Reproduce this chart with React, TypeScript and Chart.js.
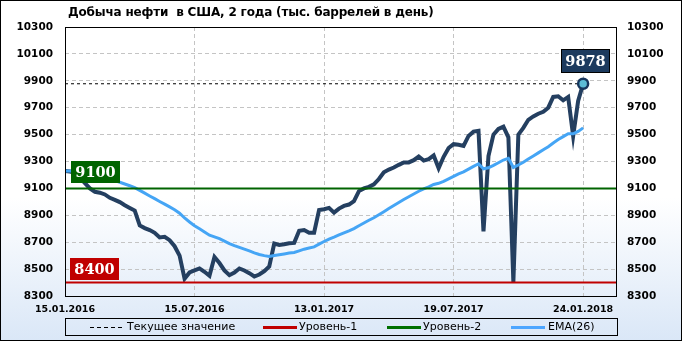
import React, { useEffect, useRef } from "react";
import { Chart, registerables } from "chart.js";
Chart.register(...registerables);

const title = "Добыча нефти  в США, 2 года (тыс. баррелей в день)";

// weekly production, thousand barrels per day (index = week)
const production = [
  9230, 9225, 9215, 9180, 9140, 9100, 9075, 9068, 9055, 9030,
  9015, 8998, 8975, 8955, 8935, 8825, 8805, 8790, 8770, 8735,
  8740, 8715, 8670, 8600, 8428, 8475, 8490, 8505, 8480, 8450,
  8590, 8545, 8490, 8455, 8475, 8505, 8490, 8470, 8445, 8460,
  8485, 8520, 8690, 8680, 8685, 8692, 8695, 8785, 8790, 8770,
  8770, 8940, 8945, 8955, 8920, 8950, 8970, 8980, 9005, 9080,
  9100, 9112, 9130, 9170, 9220, 9240, 9255, 9275, 9293, 9293,
  9310, 9337, 9307, 9318, 9345, 9250, 9335, 9400, 9429, 9425,
  9416, 9490, 9522, 9528, 8780, 9340, 9500, 9542, 9559, 9480,
  8405, 9500, 9550, 9610, 9635, 9655, 9670, 9700, 9780, 9785,
  9755, 9780, 9490, 9750, 9878,
];

const ema26 = [
  9230, 9230, 9228, 9225, 9219, 9210, 9200, 9190, 9180, 9169,
  9158, 9146, 9133, 9120, 9106, 9085, 9065, 9044, 9024, 9003,
  8983, 8963, 8942, 8916, 8880, 8850, 8823, 8800, 8776, 8752,
  8740, 8726, 8708, 8689, 8674, 8661, 8648, 8635, 8621, 8609,
  8600, 8594, 8601, 8607, 8613, 8619, 8624, 8636, 8648, 8657,
  8665, 8686, 8705, 8723, 8738, 8754, 8770, 8785, 8801, 8822,
  8843, 8863, 8882, 8904, 8927, 8950, 8973, 8995, 9017, 9038,
  9058, 9079, 9096, 9112, 9129, 9138, 9153, 9171, 9190, 9208,
  9223, 9243, 9264, 9283, 9246, 9253, 9271, 9291, 9311, 9324,
  9256, 9274, 9294, 9318, 9341, 9364, 9387, 9410, 9438, 9463,
  9485, 9507, 9506, 9524, 9550,
];

const tickIndex = [0, 26, 52, 78, 104];
const tickLabels = ["15.01.2016", "15.07.2016", "13.01.2017", "19.07.2017", "24.01.2018"];
const xMax = 110.6;

const yMin = 8300;
const yMax = 10300;
const yStep = 200;

const level1 = 8400;
const level2 = 9100;
const currentValue = 9878;

const legendLabels = ["Текущее значение", "Уровень-1", "Уровень-2", "EMA(26)"];

const COLORS = {
  main: "#243f60",
  ema: "#45a5f5",
  red: "#c00000",
  green: "#006400",
  grid: "#c4c4c4",
};

const FONT = '"DejaVu Sans", sans-serif';

const framePlugin = {
  id: "frame",
  afterDatasetsDraw(chart: any) {
    const { ctx, chartArea: a, scales } = chart;
    ctx.save();
    ctx.strokeStyle = "#000";
    ctx.lineWidth = 1;
    ctx.strokeRect(Math.round(a.left) + 0.5, Math.round(a.top) + 0.5, Math.round(a.right - a.left), Math.round(a.bottom - a.top));

    const drawBox = (text: string, left: number, bottom: number, w: number, h: number, bg: string, border?: string) => {
      ctx.fillStyle = bg;
      ctx.fillRect(left, bottom - h, w, h);
      if (border) {
        ctx.strokeStyle = border;
        ctx.lineWidth = 1;
        ctx.strokeRect(left + 0.5, bottom - h + 0.5, w - 1, h - 1);
      }
      ctx.fillStyle = "#fff";
      ctx.font = 'bold 14.5px "DejaVu Serif", serif';
      ctx.textAlign = "center";
      ctx.textBaseline = "middle";
      ctx.fillText(text, left + w / 2, bottom - h / 2 + 1);
    };
    const y = scales.y;
    const x = scales.x;
    drawBox(String(level2), Math.round(a.left) + 6, Math.round(y.getPixelForValue(level2)) - 5, 49, 22, "#006400");
    drawBox(String(level1), Math.round(a.left) + 5, Math.round(y.getPixelForValue(level1)) - 3, 49, 22, "#c00000");
    const lx = x.getPixelForValue(production.length - 1);
    drawBox(String(currentValue), Math.round(lx - 22), Math.round(y.getPixelForValue(currentValue)) - 11, 49, 24, "#1c3a5e", "#000");
    ctx.restore();
  },
};

export default function App() {
  const ref = useRef<HTMLCanvasElement>(null);
  useEffect(() => {
    document.body.style.margin = "0";
    const last = production.length - 1;
    const pts = (arr: number[]) => arr.map((v, i) => ({ x: i, y: v }));
    const chart = new Chart(ref.current!, {
      type: "line",
      data: {
        datasets: [
          {
            label: legendLabels[0],
            data: [{ x: 0, y: currentValue }, { x: last, y: currentValue }],
            borderColor: "#000",
            borderWidth: 1,
            borderDash: [3, 3],
            pointRadius: 0,
            order: 5,
          },
          {
            label: "production",
            data: pts(production),
            borderColor: COLORS.main,
            borderWidth: 4,
            pointRadius: (c: any) => (c.dataIndex === last ? 5 : 0),
            pointBackgroundColor: "#5cbcd6",
            pointBorderColor: "#17365d",
            pointBorderWidth: 2.5,
            order: 3,
          },
          {
            label: legendLabels[3],
            data: pts(ema26),
            borderColor: COLORS.ema,
            borderWidth: 3,
            pointRadius: 0,
            order: 2,
          },
          {
            label: legendLabels[1],
            data: [{ x: 0, y: level1 }, { x: xMax, y: level1 }],
            borderColor: COLORS.red,
            borderWidth: 2,
            pointRadius: 0,
            order: 1,
          },
          {
            label: legendLabels[2],
            data: [{ x: 0, y: level2 }, { x: xMax, y: level2 }],
            borderColor: COLORS.green,
            borderWidth: 2,
            pointRadius: 0,
            order: 1,
          },
        ],
      },
      options: {
        animation: false,
        responsive: false,
        devicePixelRatio: 1,
        layout: { padding: { top: 27, bottom: 25, left: 0, right: 0 } },
        plugins: { legend: { display: false }, tooltip: { enabled: false } },
        elements: { line: { tension: 0 } },
        scales: {
          x: {
            type: "linear",
            min: 0,
            max: xMax,
            afterBuildTicks: (axis: any) => {
              axis.ticks = tickIndex.map((v) => ({ value: v }));
            },
            afterFit: (s: any) => {
              s.height = 20;
            },
            ticks: {
              autoSkip: false,
              maxRotation: 0,
              padding: 8,
              color: "#000",
              font: { family: FONT, weight: "bold", size: 9.5 },
              callback: (v: any) => tickLabels[tickIndex.indexOf(Number(v))] ?? "",
            },
            grid: { color: COLORS.grid, drawTicks: false },
            border: { display: false, dash: [4, 3] },
          },
          y: {
            position: "left",
            min: yMin,
            max: yMax,
            afterFit: (s: any) => {
              s.width = 65;
            },
            ticks: {
              stepSize: yStep,
              padding: 12,
              color: "#000",
              font: { family: FONT, weight: "bold", size: 10.5 },
              callback: (v: any) => String(v),
            },
            grid: { color: COLORS.grid, drawTicks: false },
            border: { display: false, dash: [4, 3] },
          },
          y2: {
            position: "right",
            min: yMin,
            max: yMax,
            afterFit: (s: any) => {
              s.width = 66;
            },
            ticks: {
              stepSize: yStep,
              padding: 11,
              color: "#000",
              font: { family: FONT, weight: "bold", size: 10.5 },
              callback: (v: any) => String(v),
            },
            grid: { drawOnChartArea: false, drawTicks: false },
            border: { display: false },
          },
        },
      } as any,
      plugins: [framePlugin],
    } as any);
    return () => chart.destroy();
  }, []);

  const legendText: React.CSSProperties = {
    position: "absolute",
    top: 320,
    fontFamily: FONT,
    fontSize: 11,
    lineHeight: "14px",
    color: "#000",
    whiteSpace: "nowrap",
  };
  const swatch = (left: number, color: string): React.CSSProperties => ({
    position: "absolute",
    left,
    top: 326,
    width: 34,
    height: 3,
    background: color,
  });

  return (
    <div
      style={{
        position: "relative",
        width: 682,
        height: 341,
        overflow: "hidden",
        background: "linear-gradient(to bottom, #ffffff 0%, #ffffff 58%, #dae7f7 100%)",
      }}
    >
      <canvas ref={ref} width={682} height={341} style={{ position: "absolute", left: 0, top: 0 }} />
      <div
        style={{
          position: "absolute",
          left: 68,
          top: 5,
          fontFamily: FONT,
          fontWeight: "bold",
          fontSize: 12,
          lineHeight: "14px",
          letterSpacing: "-0.18px",
          whiteSpace: "pre",
          color: "#000",
        }}
      >
        {title}
      </div>
      <div
        style={{
          position: "absolute",
          left: 65,
          top: 318,
          width: 553,
          height: 18,
          boxSizing: "border-box",
          border: "1px solid #000",
        }}
      />
      <div
        style={{
          position: "absolute",
          left: 90,
          top: 327,
          width: 32,
          height: 1,
          background: "repeating-linear-gradient(to right, #000 0px, #000 4px, transparent 4px, transparent 7px)",
        }}
      />
      <div style={{ ...legendText, left: 127 }}>{legendLabels[0]}</div>
      <div style={swatch(263, COLORS.red)} />
      <div style={{ ...legendText, left: 299 }}>{legendLabels[1]}</div>
      <div style={swatch(387, "#007000")} />
      <div style={{ ...legendText, left: 423 }}>{legendLabels[2]}</div>
      <div style={swatch(511, "#4da6ff")} />
      <div style={{ ...legendText, left: 548 }}>{legendLabels[3]}</div>
      <div
        style={{
          position: "absolute",
          left: 0,
          top: 0,
          width: 682,
          height: 341,
          boxSizing: "border-box",
          border: "1px solid #000",
          pointerEvents: "none",
        }}
      />
    </div>
  );
}
